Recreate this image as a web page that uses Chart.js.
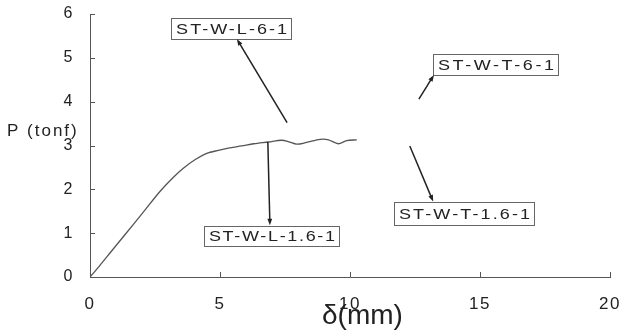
<!DOCTYPE html>
<html>
<head>
<meta charset="utf-8">
<script src="https://cdn.jsdelivr.net/npm/chart.js@4/dist/chart.umd.min.js"></script>
<style>
  html, body { margin: 0; padding: 0; background: #fff; }
  #wrap { width: 624px; height: 334px; position: relative; }
</style>
</head>
<body>
<div id="wrap"><canvas id="loadChart"></canvas></div>
<script>
  // Load-displacement curve (displacement in mm, load in tonf)
  const deflection = [0, 0.36, 0.8, 1.35, 2.05, 2.69, 3.2, 3.59, 4.05, 4.49, 4.94, 5.32, 5.83, 6.3,
    6.86, 7.37, 7.63, 7.95, 8.33, 8.85, 9.17, 9.55, 9.87, 10.26];
  const load = [0, 0.25, 0.57, 0.97, 1.48, 1.95, 2.27, 2.48, 2.68, 2.82, 2.89, 2.94, 2.99, 3.04,
    3.08, 3.12, 3.09, 3.03, 3.07, 3.14, 3.13, 3.04, 3.11, 3.13];

  const xTicks = [0, 5, 10, 15, 20];
  const yTicks = [0, 1, 2, 3, 4, 5, 6];

  // Specimen labels: box corners and arrow tail/tip, all in axis units
  const specimens = ['ST-W-L-6-1', 'ST-W-T-6-1', 'ST-W-L-1.6-1', 'ST-W-T-1.6-1'];
  const boxLeft = [3.12, 13.19, 4.38, 11.69];
  const boxTop = [5.91, 5.09, 1.16, 1.71];
  const boxRight = [7.73, 18.0, 9.58, 17.08];
  const boxBottom = [5.43, 4.61, 0.71, 1.19];
  const arrowFrom = [[7.58, 3.52], [12.65, 4.06], [6.84, 3.08], [12.3, 2.99]];
  const arrowTo = [[5.65, 5.43], [13.23, 4.61], [6.92, 1.18], [13.2, 1.72]];

  const ink = '#222';
  const sans = '"Liberation Sans", Arial, sans-serif';

  function drawArrow(ctx, x1, y1, x2, y2) {
    const ang = Math.atan2(y2 - y1, x2 - x1);
    const head = 7;
    ctx.beginPath();
    ctx.moveTo(x1, y1);
    ctx.lineTo(x2 - Math.cos(ang) * 3, y2 - Math.sin(ang) * 3);
    ctx.stroke();
    ctx.beginPath();
    ctx.moveTo(x2, y2);
    ctx.lineTo(x2 - head * Math.cos(ang - 0.35), y2 - head * Math.sin(ang - 0.35));
    ctx.lineTo(x2 - head * Math.cos(ang + 0.35), y2 - head * Math.sin(ang + 0.35));
    ctx.closePath();
    ctx.fill();
  }

  // Inner tick marks, axis titles and the specimen callouts
  const decorations = {
    id: 'decorations',
    beforeDraw(chart) {
      chart.ctx.letterSpacing = '1.5px';
    },
    afterDraw(chart) {
      const { ctx, scales: { x, y }, chartArea } = chart;
      ctx.save();
      ctx.letterSpacing = '0px';
      ctx.strokeStyle = '#555';
      ctx.lineWidth = 1;
      yTicks.forEach(v => {
        const py = Math.round(y.getPixelForValue(v)) + 0.5;
        ctx.beginPath();
        ctx.moveTo(chartArea.left, py);
        ctx.lineTo(chartArea.left + 5, py);
        ctx.stroke();
      });
      xTicks.forEach(v => {
        const px = Math.round(x.getPixelForValue(v)) + 0.5;
        ctx.beginPath();
        ctx.moveTo(px, chartArea.bottom);
        ctx.lineTo(px, chartArea.bottom - 5);
        ctx.stroke();
      });

      // axis titles
      ctx.fillStyle = ink;
      ctx.textBaseline = 'middle';
      ctx.textAlign = 'left';
      ctx.font = '17px ' + sans;
      ctx.letterSpacing = '2px';
      ctx.fillText('P (tonf)', 7, 131);
      ctx.letterSpacing = '0px';
      ctx.textBaseline = 'alphabetic';
      ctx.font = '28px ' + sans;
      ctx.fillText('δ(mm)', 322, 324);

      // callouts: wide lettering stretched to fill each box
      const stretch = 1.2;
      ctx.font = '15px ' + sans;
      ctx.textBaseline = 'middle';
      specimens.forEach((name, i) => {
        const l = x.getPixelForValue(boxLeft[i]);
        const r = x.getPixelForValue(boxRight[i]);
        const t = y.getPixelForValue(boxTop[i]);
        const b = y.getPixelForValue(boxBottom[i]);
        ctx.fillStyle = '#fff';
        ctx.fillRect(l, t, r - l, b - t);
        ctx.strokeStyle = '#666';
        ctx.lineWidth = 1;
        ctx.strokeRect(Math.round(l) + 0.5, Math.round(t) + 0.5, Math.round(r - l), Math.round(b - t));

        ctx.letterSpacing = '0px';
        const w = ctx.measureText(name).width * stretch;
        const gap = Math.max(0, (r - l - 9 - w) / (name.length - 1)) / stretch;
        ctx.letterSpacing = gap.toFixed(2) + 'px';
        ctx.fillStyle = ink;
        ctx.save();
        ctx.translate(l + 5, (t + b) / 2 + 1);
        ctx.scale(stretch, 1);
        ctx.fillText(name, 0, 0);
        ctx.restore();

        ctx.strokeStyle = ink;
        ctx.lineWidth = 1.5;
        drawArrow(ctx,
          x.getPixelForValue(arrowFrom[i][0]), y.getPixelForValue(arrowFrom[i][1]),
          x.getPixelForValue(arrowTo[i][0]), y.getPixelForValue(arrowTo[i][1]));
      });
      ctx.restore();
    }
  };

  const ctx = document.getElementById('loadChart').getContext('2d');
  const loadChart = new Chart(ctx, {
    type: 'line',
    data: {
      datasets: [{
        label: 'P',
        data: deflection.map((d, i) => ({ x: d, y: load[i] })),
        borderColor: '#555',
        borderWidth: 1.3,
        pointRadius: 0,
        tension: 0.3,
        fill: false
      }]
    },
    options: {
      responsive: true,
      maintainAspectRatio: false,
      animation: false,
      layout: {
        padding: { top: 14, right: 14, left: 0, bottom: 0 }
      },
      plugins: {
        legend: { display: false },
        tooltip: { enabled: false }
      },
      scales: {
        x: {
          type: 'linear',
          min: 0,
          max: 20,
          afterBuildTicks: axis => { axis.ticks = xTicks.map(v => ({ value: v })); },
          afterFit: axis => {
            axis.height = 57;
            axis.paddingLeft = 0;
            axis.paddingRight = 0;
          },
          grid: { display: false, drawTicks: false },
          border: { display: true, color: '#555', width: 1 },
          ticks: {
            padding: 17,
            color: ink,
            font: { family: sans, size: 17 },
            maxRotation: 0
          }
        },
        y: {
          min: 0,
          max: 6,
          afterBuildTicks: axis => { axis.ticks = yTicks.map(v => ({ value: v })); },
          afterFit: axis => {
            axis.width = 90;
            axis.paddingTop = 0;
            axis.paddingBottom = 0;
          },
          grid: { display: false, drawTicks: false },
          border: { display: true, color: '#555', width: 1 },
          ticks: {
            padding: 16,
            color: ink,
            font: { family: sans, size: 16 }
          }
        }
      }
    },
    plugins: [decorations]
  });
</script>
</body>
</html>
